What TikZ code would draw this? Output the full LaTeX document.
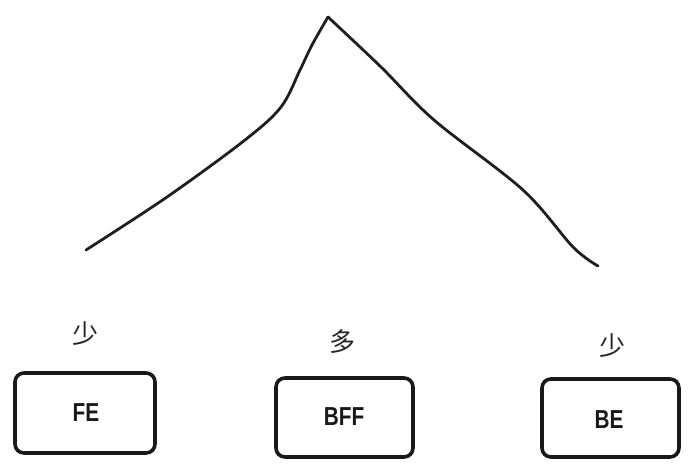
\documentclass[tikz,border=0pt]{standalone}
\usepackage{fontspec}
\setmainfont{Liberation Sans}
\newfontfamily\cjk{Noto Sans CJK SC}
\begin{document}
\begin{tikzpicture}[x=1pt,y=-1pt,
  box/.style={draw=black!90, line width=3.6pt, rounded corners=9pt},
  lbl/.style={font=\fontsize{26}{26}\selectfont\bfseries, text=black!90},
  cjklbl/.style={font=\cjk\fontsize{26}{26}\selectfont, text=black!85},
  stroke/.style={draw=black!88, line width=2.8pt, line cap=round, line join=round}]
\useasboundingbox (0,0) rectangle (696,474);
% curve
\draw[stroke] plot[smooth, tension=0.55] coordinates {(86,250) (167,197) (245,140) (281,107) (300,70) (312,45) (328,17)};
\draw[stroke] plot[smooth, tension=0.55] coordinates {(328,17) (381,67) (434,120) (523,190) (573,247) (598,266)};
% boxes
\draw[box] (15,373) rectangle (155,453);
\draw[box] (276,378) rectangle (413,457);
\draw[box] (542,379) rectangle (679,457);
\node[lbl, xscale=0.8] (fe) at (86,413) {FE};
\node[lbl, xscale=0.8] (bff) at (344,417) {BFF};
\node[lbl, xscale=0.8] (be) at (609,420) {BE};
\node[cjklbl] (l1) at (85,334) {少};
\node[cjklbl] (l2) at (342,342) {多};
\node[cjklbl] (l3) at (612,346) {少};
\end{tikzpicture}
\end{document}
